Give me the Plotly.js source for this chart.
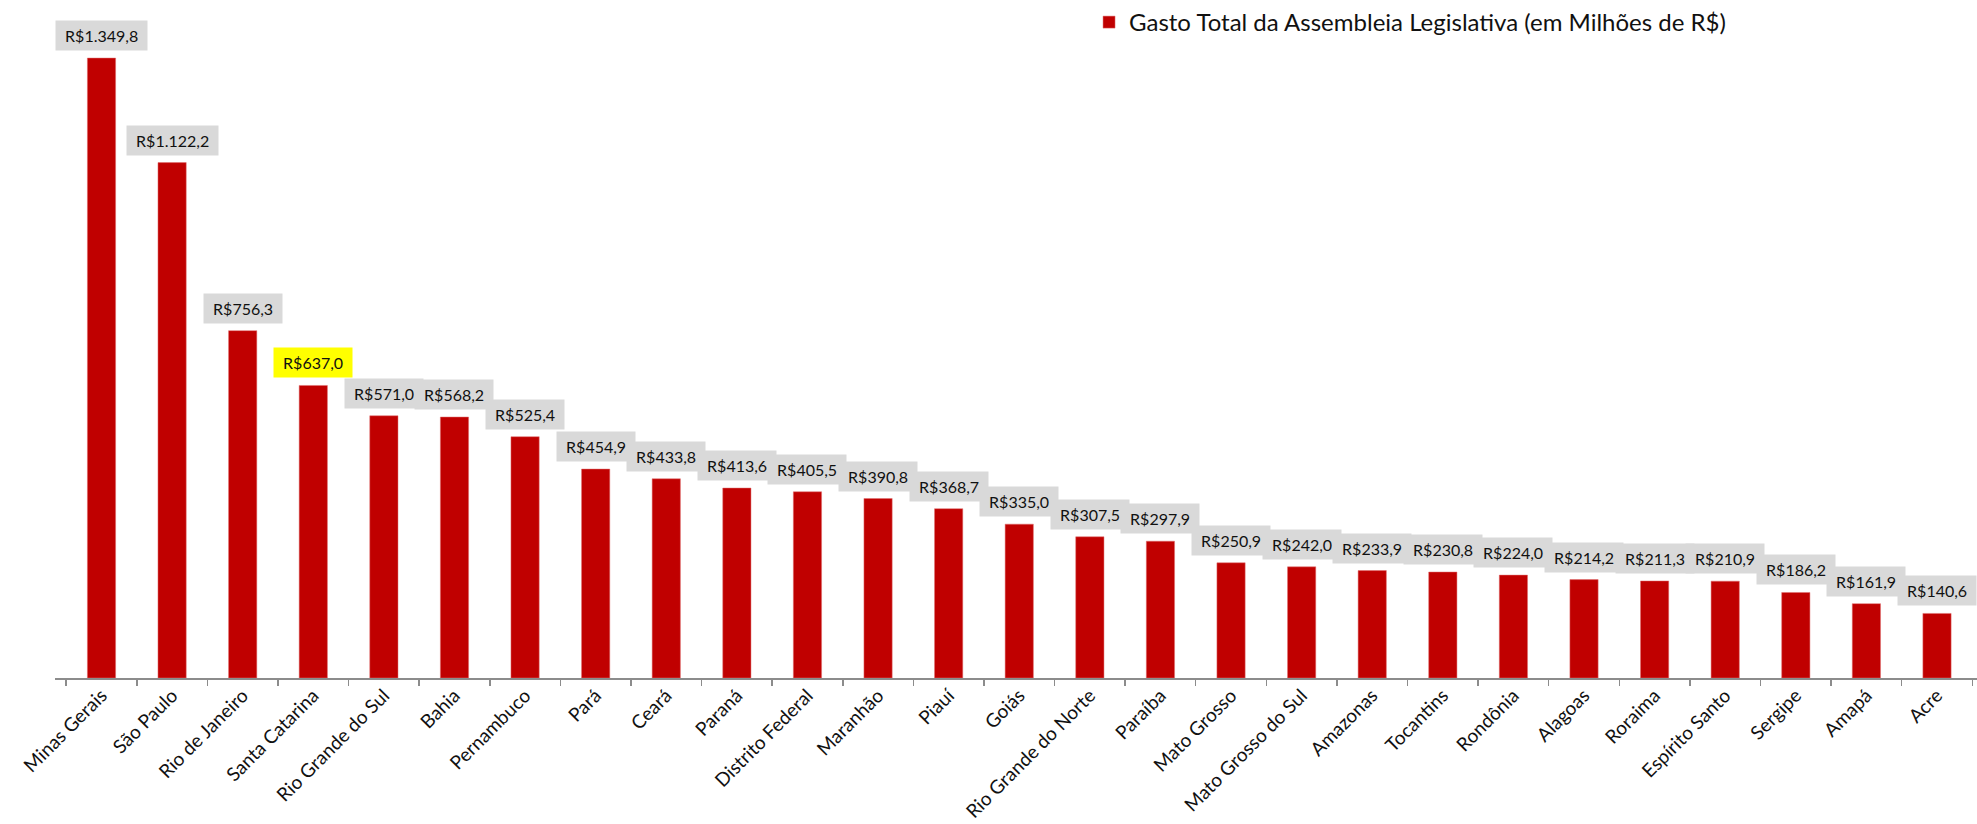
<!DOCTYPE html>
<html>
<head>
<meta charset="utf-8">
<script src="https://cdn.plot.ly/plotly-3.0.1.min.js"></script>
<style>html,body{margin:0;padding:0;background:#fff;}</style>
</head>
<body>
<div id="chart" style="width:1977px;height:824px;"></div>
<script>
const states = ["Minas Gerais","São Paulo","Rio de Janeiro","Santa Catarina","Rio Grande do Sul","Bahia","Pernambuco","Pará","Ceará","Paraná","Distrito Federal","Maranhão","Piauí","Goiás","Rio Grande do Norte","Paraíba","Mato Grosso","Mato Grosso do Sul","Amazonas","Tocantins","Rondônia","Alagoas","Roraima","Espírito Santo","Sergipe","Amapá","Acre"];
const spending = [1349.8,1122.2,756.3,637.0,571.0,568.2,525.4,454.9,433.8,413.6,405.5,390.8,368.7,335.0,307.5,297.9,250.9,242.0,233.9,230.8,224.0,214.2,211.3,210.9,186.2,161.9,140.6];
const highlighted = ["Santa Catarina"];
const seriesName = "Gasto Total da Assembleia Legislativa (em Milhões de R$)";

function fmtBR(v){
  const parts = v.toFixed(1).split(".");
  const intPart = parts[0].replace(/\B(?=(\d{3})+(?!\d))/g, ".");
  return "R$" + intPart + "," + parts[1];
}

const FONT = "Lato, 'Open Sans', sans-serif";
const NB = "\u00a0";

const annotations = states.map((s, i) => ({
  x: s, y: spending[i], xref: "x", yref: "y",
  text: NB + fmtBR(spending[i]) + NB,
  showarrow: false, yanchor: "bottom", yshift: 7,
  bgcolor: highlighted.includes(s) ? "#ffff00" : "#d9d9d9",
  borderpad: 5,
  font: {family: FONT, size: 16, color: "#111"}
}));

const trace = {
  type: "bar", x: states, y: spending, name: seriesName,
  marker: {color: "#c00000", line: {color: "#e07070", width: 0.5}},
  showlegend: true, cliponaxis: false, hoverinfo: "none"
};

const layout = {
  width: 1977, height: 824,
  margin: {l: 55, r: 0, t: 32, b: 146},
  paper_bgcolor: "#fff", plot_bgcolor: "#fff",
  bargap: 0.6,
  font: {family: FONT, color: "#000"},
  xaxis: {
    type: "category", tickangle: -45, tickson: "boundaries",
    ticks: "outside", ticklen: 6, tickcolor: "#8c8c8c", tickwidth: 1.5,
    showline: true, linecolor: "#8c8c8c", linewidth: 2,
    ticklabelstandoff: -3,
    showgrid: false, tickfont: {family: FONT, size: 19, color: "#111"}
  },
  yaxis: {range: [0, 1400], visible: false, showgrid: false, zeroline: false},
  showlegend: true,
  legend: {orientation: "h", x: 0.538, xanchor: "left", y: 1.02, yanchor: "middle",
           font: {family: FONT, size: 24, color: "#111"}, bgcolor: "rgba(0,0,0,0)"},
  annotations: annotations
};

Plotly.newPlot("chart", [trace], layout, {displayModeBar: false, staticPlot: true});
</script>
</body>
</html>
